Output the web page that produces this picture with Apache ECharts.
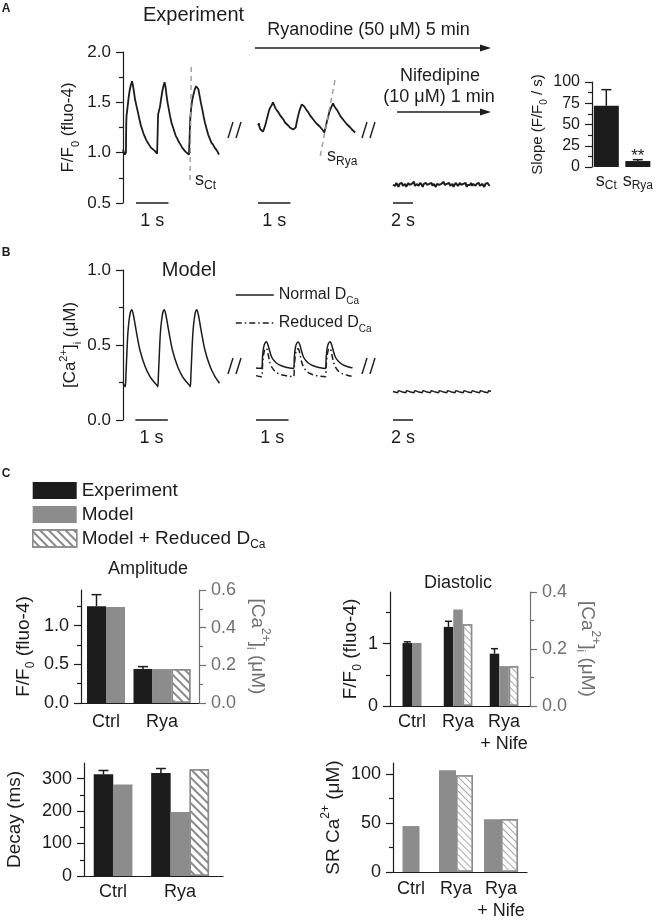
<!DOCTYPE html>
<html>
<head>
<meta charset="utf-8">
<script src="https://cdn.jsdelivr.net/npm/echarts@6/dist/echarts.min.js"></script>
<style>
html,body{margin:0;padding:0;background:#fff;}
#chart{width:656px;height:922px;}
</style>
</head>
<body>
<div id="chart"></div>
<script>
// ================= DATA =================
// Panel A: experiment traces [time (s), F/F0]
const expCtrl = [[0.00,1.03],[0.03,1.00],[0.06,0.98],[0.09,1.00],[0.10,1.30],[0.11,1.37],[0.14,1.45],[0.17,1.54],[0.20,1.61],[0.24,1.67],[0.28,1.71],[0.31,1.66],[0.34,1.60],[0.37,1.53],[0.41,1.47],[0.46,1.40],[0.50,1.34],[0.55,1.27],[0.59,1.23],[0.63,1.19],[0.67,1.16],[0.71,1.13],[0.76,1.10],[0.80,1.08],[0.86,1.05],[0.92,1.04],[0.97,1.02],[1.01,1.01],[1.05,0.99],[1.07,0.99],[1.08,1.38],[1.11,1.42],[1.14,1.46],[1.17,1.53],[1.21,1.61],[1.25,1.67],[1.28,1.70],[1.31,1.65],[1.34,1.57],[1.37,1.50],[1.41,1.43],[1.45,1.36],[1.49,1.30],[1.53,1.26],[1.58,1.21],[1.62,1.17],[1.67,1.14],[1.71,1.11],[1.77,1.08],[1.82,1.05],[1.87,1.03],[1.92,1.01],[1.98,1.00],[2.03,0.98],[2.06,0.97],[2.07,1.34],[2.10,1.45],[2.13,1.52],[2.17,1.58],[2.21,1.63],[2.25,1.66],[2.28,1.67],[2.32,1.63],[2.36,1.56],[2.40,1.49],[2.44,1.43],[2.48,1.36],[2.52,1.30],[2.57,1.24],[2.62,1.18],[2.67,1.14],[2.72,1.10],[2.77,1.08],[2.82,1.05],[2.87,1.03],[2.91,1.01],[2.95,0.98]];
const expRya = [[0.00,1.27],[0.03,1.29],[0.05,1.25],[0.08,1.23],[0.11,1.22],[0.15,1.21],[0.18,1.23],[0.20,1.24],[0.23,1.28],[0.26,1.32],[0.30,1.37],[0.34,1.42],[0.38,1.45],[0.42,1.47],[0.46,1.50],[0.50,1.47],[0.54,1.44],[0.58,1.42],[0.63,1.40],[0.68,1.37],[0.73,1.35],[0.78,1.33],[0.83,1.30],[0.88,1.29],[0.93,1.27],[0.98,1.25],[1.03,1.24],[1.08,1.23],[1.13,1.22],[1.16,1.25],[1.19,1.30],[1.23,1.36],[1.27,1.41],[1.31,1.45],[1.35,1.48],[1.38,1.49],[1.42,1.46],[1.46,1.44],[1.50,1.42],[1.55,1.40],[1.60,1.37],[1.65,1.35],[1.70,1.33],[1.75,1.31],[1.80,1.29],[1.85,1.28],[1.90,1.26],[1.95,1.24],[2.00,1.22],[2.04,1.20],[2.08,1.25],[2.12,1.31],[2.16,1.36],[2.20,1.41],[2.24,1.44],[2.28,1.47],[2.31,1.49],[2.35,1.46],[2.39,1.44],[2.44,1.42],[2.49,1.39],[2.54,1.36],[2.59,1.34],[2.64,1.32],[2.69,1.30],[2.74,1.28],[2.79,1.27],[2.84,1.25],[2.89,1.23],[2.94,1.22],[2.99,1.20]];
const expNifeDt = 0.11;
const expNife = [0.68,0.69,0.67,0.70,0.68,0.66,0.69,0.68,0.70,0.67,0.68,0.69,0.66,0.68,0.70,0.68,0.67,0.69,0.68,0.71,0.67,0.68,0.69,0.67,0.68,0.70,0.68,0.66,0.69,0.68,0.70,0.68,0.67,0.69,0.68,0.70,0.67,0.69,0.68,0.66,0.69,0.70,0.68,0.67,0.69,0.68,0.71,0.68,0.67,0.69,0.68,0.70,0.67,0.68,0.69,0.66,0.68,0.70,0.69,0.67,0.68,0.70,0.68,0.67,0.69,0.68,0.70,0.66,0.68,0.69,0.68,0.70,0.67,0.69,0.68,0.67,0.69,0.68,0.70,0.67,0.68,0.69,0.68,0.66,0.69,0.68,0.70,0.68,0.67];
const sCtLine = [[2.10,1.85],[2.06,0.70]];
const sRyaLine = [[2.37,1.72],[1.91,0.96]];

// Panel A inset: upstroke slope
const slopeCats = ['s_Ct','s_Rya'];
const slopeMean = [72, 7];
const slopeErr = [19, 1.6];
const slopeSig = ['', '**'];

// Panel B: model traces [time (s), [Ca2+]i (uM)]
const modelCtrl = [[0.00,0.245],[0.04,0.232],[0.07,0.222],[0.09,0.30],[0.12,0.45],[0.15,0.58],[0.19,0.67],[0.23,0.72],[0.27,0.735],[0.32,0.70],[0.37,0.64],[0.42,0.578],[0.52,0.467],[0.68,0.356],[0.83,0.289],[0.97,0.25],[1.04,0.233],[1.07,0.222],[1.09,0.30],[1.12,0.45],[1.15,0.58],[1.19,0.67],[1.23,0.72],[1.27,0.735],[1.32,0.70],[1.37,0.64],[1.42,0.578],[1.52,0.467],[1.68,0.356],[1.83,0.289],[1.97,0.25],[2.04,0.233],[2.07,0.222],[2.09,0.30],[2.12,0.45],[2.15,0.58],[2.19,0.67],[2.23,0.72],[2.27,0.735],[2.32,0.70],[2.37,0.64],[2.42,0.578],[2.52,0.467],[2.68,0.356],[2.83,0.289],[2.97,0.245]];
const modelRyaNormal = [[0.00,0.346],[0.10,0.345],[0.18,0.344],[0.20,0.42],[0.23,0.48],[0.27,0.51],[0.32,0.522],[0.37,0.50],[0.42,0.46],[0.48,0.42],[0.56,0.395],[0.66,0.375],[0.80,0.36],[0.95,0.35],[1.10,0.345],[1.16,0.344],[1.18,0.42],[1.21,0.48],[1.25,0.51],[1.30,0.52],[1.35,0.50],[1.40,0.46],[1.46,0.42],[1.54,0.395],[1.64,0.375],[1.78,0.36],[1.93,0.35],[2.08,0.345],[2.14,0.344],[2.16,0.42],[2.19,0.48],[2.23,0.51],[2.28,0.522],[2.33,0.50],[2.38,0.46],[2.44,0.42],[2.52,0.395],[2.62,0.375],[2.76,0.36],[2.91,0.35],[2.97,0.348]];
const modelRyaReduced = [[0.00,0.296],[0.10,0.29],[0.18,0.289],[0.20,0.36],[0.23,0.43],[0.27,0.47],[0.32,0.478],[0.37,0.44],[0.42,0.39],[0.48,0.355],[0.58,0.325],[0.70,0.308],[0.85,0.298],[1.00,0.292],[1.16,0.289],[1.18,0.36],[1.21,0.43],[1.25,0.47],[1.30,0.475],[1.35,0.44],[1.40,0.39],[1.46,0.355],[1.56,0.325],[1.68,0.308],[1.83,0.298],[1.98,0.292],[2.14,0.289],[2.16,0.36],[2.19,0.43],[2.23,0.47],[2.28,0.478],[2.33,0.44],[2.38,0.39],[2.44,0.355],[2.54,0.325],[2.66,0.308],[2.81,0.298],[2.97,0.29]];
const modelNife = [[0,0.19],[0.45,0.182],[0.55,0.196],[0.85,0.189],[1.27,0.182],[1.37,0.196],[1.67,0.189],[2.09,0.182],[2.19,0.196],[2.49,0.189],[2.91,0.182],[3.01,0.196],[3.31,0.189],[3.73,0.182],[3.83,0.196],[4.13,0.189],[4.55,0.182],[4.65,0.196],[4.95,0.189],[5.37,0.182],[5.47,0.196],[5.77,0.189],[6.19,0.182],[6.29,0.196],[6.59,0.189],[7.01,0.182],[7.11,0.196],[7.41,0.189],[7.83,0.182],[7.93,0.196],[8.23,0.189],[8.65,0.182],[8.75,0.196],[9.05,0.189],[9.47,0.182],[9.57,0.196],[9.80,0.19]];

// Panel C
const seriesNames = ['Experiment', 'Model', 'Model + Reduced D_Ca'];
const catsAmp = ['Ctrl', 'Rya'];
const ampExp = [1.25, 0.44];
const ampExpErr = [0.15, 0.03];
const ampModel = [0.51, 0.18];
const ampReduced = [null, 0.18];

const catsDia = ['Ctrl', 'Rya', 'Rya\n+ Nife'];
const diaExp = [1.01, 1.27, 0.84];
const diaExpErr = [0.02, 0.09, 0.08];
const diaModel = [0.221, 0.339, 0.14];
const diaReduced = [null, 0.287, 0.14];

const catsDecay = ['Ctrl', 'Rya'];
const decExp = [313, 317];
const decExpErr = [12, 14];
const decModel = [282, 197];
const decReduced = [null, 329];

const catsSR = ['Ctrl', 'Rya', 'Rya\n+ Nife'];
const srModel = [47, 104, 54];
const srReduced = [null, 99, 54];

// Tick labels
const ticksA = [0.5, 1.0, 1.5, 2.0], minorA = [0.75, 1.25, 1.75];
const ticksB = [0, 0.5, 1.0], minorB = [0.25, 0.75];
const ticksSlope = [0, 25, 50, 75, 100], minorSlope = [12.5, 37.5, 62.5, 87.5];
const ticksAmpL = [0, 0.5, 1.0], minorAmpL = [0.25, 0.75, 1.25];
const ticksAmpR = [0, 0.2, 0.4, 0.6], minorAmpR = [0.1, 0.3, 0.5];
const ticksDiaL = [0, 1], minorDiaL = [0.5, 1.5];
const ticksDiaR = [0, 0.2, 0.4], minorDiaR = [0.1, 0.3];
const ticksDec = [0, 100, 200, 300], minorDec = [50, 150, 250];
const ticksSR = [0, 50, 100], minorSR = [25, 75];

// Scale bars (start s, length s, label)
const scaleBarsA = [[0.4, 1, '1 s'], [0, 1, '1 s'], [0, 2, '2 s']];
const scaleBarsB = [[0.38, 1, '1 s'], [0, 1, '1 s'], [0, 2, '2 s']];

// ================= BUILD =================
const FONT = '"Liberation Sans", Arial, Helvetica, sans-serif';
const INK = '#1c1c1c', GREY = '#8c8c8c', AXG = '#707070';
const HATCH = {symbol: 'rect', symbolSize: 1, dashArrayX: [1, 0], dashArrayY: [1.5, 4], rotation: Math.PI / 4, color: '#8a8a8a'};
const HATCH_FINE = {symbol: 'rect', symbolSize: 1, dashArrayX: [1, 0], dashArrayY: [1, 4], rotation: Math.PI / 4, color: '#a8a8a8'};

const subify = s => s.replace(/_(\w+)/, '{sub|$1}');
function rich(fs, c) {
  const s = Math.round(fs * 0.64);
  return {
    sub: {fontSize: s, fontFamily: FONT, color: c, fill: c, verticalAlign: 'bottom'},
    sup: {fontSize: s, fontFamily: FONT, color: c, fill: c, verticalAlign: 'top'}
  };
}

const grids = [], xAxes = [], yAxes = [], series = [];
function addGrid(left, top, width, height) { grids.push({left, top, width, height}); return grids.length - 1; }
function addHiddenX(g, min, max) { xAxes.push({type: 'value', gridIndex: g, min, max, show: false}); return xAxes.length - 1; }
function addHiddenY(g, min, max) { yAxes.push({type: 'value', gridIndex: g, min, max, show: false}); return yAxes.length - 1; }
function addY(g, o) {
  const c = o.color || INK;
  const idx = yAxes.length;
  yAxes.push({
    type: 'value', gridIndex: g, min: o.min, max: o.max, position: o.pos || 'left',
    axisLine: {show: true, onZero: false, lineStyle: {color: c, width: 1.2}},
    axisTick: {show: true, customValues: o.majors, length: 7, lineStyle: {color: c, width: 1.2}},
    axisLabel: {show: true, customValues: o.majors, formatter: v => Number(v).toFixed(o.dec), color: c, fontSize: o.fs, fontFamily: FONT, margin: 12},
    splitLine: {show: false},
    name: o.name, nameLocation: 'middle', nameGap: o.nameGap, nameRotate: o.nameRotate,
    nameTextStyle: {fontSize: o.nfs, fontFamily: FONT, color: c, lineHeight: o.nfs + 8, rich: rich(o.nfs, c)}
  });
  yAxes.push({
    type: 'value', gridIndex: g, min: o.min, max: o.max, position: o.pos || 'left',
    axisLine: {show: false}, axisLabel: {show: false}, splitLine: {show: false},
    axisTick: {show: true, customValues: o.minors, length: 4, lineStyle: {color: c, width: 1.2}}
  });
  return idx;
}
function addCatX(g, left, width, firstPx, stepPx, cats, margin, showLine) {
  const min = 1 - (firstPx - left) / stepPx;
  const max = min + width / stepPx;
  xAxes.push({
    type: 'value', gridIndex: g, min, max,
    axisLine: {show: showLine !== false, onZero: false, lineStyle: {color: INK, width: 1.2}},
    axisTick: {show: false}, splitLine: {show: false},
    axisLabel: {customValues: cats.map((c, i) => i + 1), formatter: v => subify(cats[Math.round(v) - 1] || ''),
      fontSize: 18, fontFamily: FONT, color: INK, margin, lineHeight: 22, rich: rich(18, INK)}
  });
  return xAxes.length - 1;
}
function line(xi, yi, data, width, extra) {
  series.push(Object.assign({type: 'line', xAxisIndex: xi, yAxisIndex: yi, data, symbol: 'none', showSymbol: false,
    lineStyle: {color: INK, width}, z: 3, silent: true}, extra || {}));
}
function scaleBar(xi, yi, yBase, bar) {
  series.push({type: 'custom', xAxisIndex: xi, yAxisIndex: yi, data: [[bar[0], bar[1], yBase]], silent: true,
    renderItem: (p, api) => {
      const s = api.value(0), L = api.value(1), yb = api.value(2);
      const p0 = api.coord([s, yb]), p1 = api.coord([s + L, yb]);
      return {type: 'group', children: [
        {type: 'line', shape: {x1: p0[0], y1: p0[1], x2: p1[0], y2: p1[1]}, style: {stroke: INK, lineWidth: 1.5}},
        {type: 'text', x: (p0[0] + p1[0]) / 2, y: p0[1] + 18, style: {text: bar[2], fontSize: 18, fontFamily: FONT, fill: INK, align: 'center', verticalAlign: 'middle', textAlign: 'center', textVerticalAlign: 'middle'}}
      ]};
    }});
}
function errBars(xi, yi, data, capW, sig) {
  series.push({type: 'custom', xAxisIndex: xi, yAxisIndex: yi, data, z: 6, silent: true,
    renderItem: (p, api) => {
      const x = api.value(0), m = api.value(1), e = api.value(2);
      const p0 = api.coord([x, m]), p1 = api.coord([x, m + e]);
      const st = {stroke: INK, lineWidth: 1.5};
      const ch = [
        {type: 'line', shape: {x1: p0[0], y1: p0[1], x2: p0[0], y2: p1[1]}, style: st},
        {type: 'line', shape: {x1: p0[0] - capW / 2, y1: p1[1], x2: p0[0] + capW / 2, y2: p1[1]}, style: st}
      ];
      const s = sig && sig[p.dataIndex];
      if (s) ch.push({type: 'text', x: p0[0], y: p1[1] - 3, style: {text: s, fontSize: 17, fontFamily: FONT, fill: INK, align: 'center', verticalAlign: 'middle', textAlign: 'center', textVerticalAlign: 'middle'}});
      return {type: 'group', children: ch};
    }});
}
function barGroups(xi, ppu, yiExp, yiMod, exp, model, reduced, w, hatch) {
  const groups = [exp, model, reduced];
  const n = (exp || model).length;
  const pos = groups.map(() => []);
  for (let i = 0; i < n; i++) {
    const present = [];
    groups.forEach((g, gi) => { if (g && g[i] != null) present.push(gi); });
    present.forEach((gi, k) => { pos[gi][i] = (i + 1) + (k - (present.length - 1) / 2) * w / ppu; });
  }
  const styles = [{color: INK}, {color: GREY}, {color: '#ffffff', borderColor: GREY, borderWidth: 1.4, decal: hatch || HATCH}];
  groups.forEach((g, gi) => {
    if (!g) return;
    const data = [];
    g.forEach((v, i) => { if (v != null) data.push([pos[gi][i], v]); });
    series.push({name: seriesNames[gi], type: 'bar', xAxisIndex: xi, yAxisIndex: gi === 0 ? yiExp : yiMod,
      barWidth: w, barGap: '-100%', itemStyle: styles[gi], data, silent: true, z: 2});
  });
  return pos;
}

// ---- Panel A ----
const gA1 = addGrid(123, 52, 97.5, 151), gA2 = addGrid(258, 52, 97.5, 151), gA3 = addGrid(393, 52, 100, 151);
const xA1 = addHiddenX(gA1, 0, 3), xA2 = addHiddenX(gA2, 0, 3), xA3 = addHiddenX(gA3, 0, 10);
const yA1 = addY(gA1, {min: 0.5, max: 2.0, majors: ticksA, minors: minorA, dec: 1, fs: 17, name: 'F/F{sub|0} (fluo-4)', nameGap: 42, nfs: 17});
const yA2 = addHiddenY(gA2, 0.5, 2.0), yA3 = addHiddenY(gA3, 0.5, 2.0);
line(xA1, yA1, expCtrl, 1.8);
line(xA2, yA2, expRya, 1.8);
line(xA3, yA3, expNife.map((v, i) => [i * expNifeDt, v]), 2);
line(xA1, yA1, sCtLine, 1.4, {lineStyle: {color: '#999', width: 1.4, type: [5, 4]}, z: 4});
line(xA2, yA2, sRyaLine, 1.4, {lineStyle: {color: '#999', width: 1.4, type: [5, 4]}, z: 4});
scaleBar(xA1, yA1, 0.5, scaleBarsA[0]);
scaleBar(xA2, yA2, 0.5, scaleBarsA[1]);
scaleBar(xA3, yA3, 0.5, scaleBarsA[2]);

// ---- Inset slope ----
const gIn = addGrid(592, 82, 64, 85);
const xIn = addCatX(gIn, 592, 64, 607, 33, slopeCats, 3, false);
const yIn = addY(gIn, {min: 0, max: 100, majors: ticksSlope, minors: minorSlope, dec: 0, fs: 16, name: 'Slope (F/F{sub|0} / s)', nameGap: 42, nfs: 15});
series.push({type: 'bar', xAxisIndex: xIn, yAxisIndex: yIn, barWidth: 25, data: slopeMean.map((v, i) => [i + 1, v]), itemStyle: {color: INK}, silent: true});
errBars(xIn, yIn, slopeMean.map((v, i) => [i + 1, v, slopeErr[i]]), 10, slopeSig);

// ---- Panel B ----
const gB1 = addGrid(123, 270, 97.5, 150), gB2 = addGrid(256, 270, 97.5, 150), gB3 = addGrid(393, 270, 100, 150);
const xB1 = addHiddenX(gB1, 0, 3), xB2 = addHiddenX(gB2, 0, 3), xB3 = addHiddenX(gB3, 0, 10);
const yB1 = addY(gB1, {min: 0, max: 1.0, majors: ticksB, minors: minorB, dec: 1, fs: 17, name: '[Ca{sup|2+}]{sub|i} (μM)', nameGap: 40, nfs: 17});
const yB2 = addHiddenY(gB2, 0, 1.0), yB3 = addHiddenY(gB3, 0, 1.0);
line(xB1, yB1, modelCtrl, 1.5, {smooth: 0.3});
series.push({name: 'Normal D_Ca', type: 'line', xAxisIndex: xB2, yAxisIndex: yB2, data: modelRyaNormal, symbol: 'none', smooth: 0.3, itemStyle: {color: INK}, lineStyle: {color: INK, width: 1.5}, silent: true, z: 3});
series.push({name: 'Reduced D_Ca', type: 'line', xAxisIndex: xB2, yAxisIndex: yB2, data: modelRyaReduced, symbol: 'none', smooth: 0.3, itemStyle: {color: INK}, lineStyle: {color: INK, width: 1.5, type: [6, 3, 1.5, 3]}, silent: true, z: 3});
line(xB3, yB3, modelNife, 1.5);
scaleBar(xB1, yB1, 0, scaleBarsB[0]);
scaleBar(xB2, yB2, 0, scaleBarsB[1]);
scaleBar(xB3, yB3, 0, scaleBarsB[2]);

// ---- Panel C ----
// Amplitude
const gAmp = addGrid(81, 590, 118, 113);
const xAmp = addCatX(gAmp, 81, 118, 106, 56, catsAmp, 8);
const yAmpL = addY(gAmp, {min: 0, max: 1.46, majors: ticksAmpL, minors: minorAmpL, dec: 1, fs: 18, name: 'F/F{sub|0} (fluo-4)', nameGap: 44, nfs: 19});
const yAmpR = addY(gAmp, {min: 0, max: 0.6, majors: ticksAmpR, minors: minorAmpR, dec: 1, fs: 18, pos: 'right', color: AXG, name: '[Ca{sup|2+}]{sub|i} (μM)', nameGap: 45, nameRotate: -90, nfs: 19});
const posAmp = barGroups(xAmp, 56, yAmpL, yAmpR, ampExp, ampModel, ampReduced, 19);
errBars(xAmp, yAmpL, ampExp.map((v, i) => [posAmp[0][i], v, ampExpErr[i]]), 10);

// Diastolic
const gDia = addGrid(390, 592, 140, 114);
const xDia = addCatX(gDia, 390, 140, 412, 46, catsDia, 5);
const yDiaL = addY(gDia, {min: 0, max: 1.83, majors: ticksDiaL, minors: minorDiaL, dec: 0, fs: 18, name: 'F/F{sub|0} (fluo-4)', nameGap: 25, nfs: 19});
const yDiaR = addY(gDia, {min: 0, max: 0.4, majors: ticksDiaR, minors: minorDiaR, dec: 1, fs: 18, pos: 'right', color: AXG, name: '[Ca{sup|2+}]{sub|i} (μM)', nameGap: 44, nameRotate: -90, nfs: 19});
const posDia = barGroups(xDia, 46, yDiaL, yDiaR, diaExp, diaModel, diaReduced, 9.5, HATCH_FINE);
errBars(xDia, yDiaL, diaExp.map((v, i) => [posDia[0][i], v, diaExpErr[i]]), 7);

// Decay
const gDec = addGrid(82, 763, 141, 113);
const xDec = addCatX(gDec, 82, 141, 111.5, 68, catsDecay, 5);
const yDec = addY(gDec, {min: 0, max: 348, majors: ticksDec, minors: minorDec, dec: 0, fs: 18, name: 'Decay (ms)', nameGap: 56, nfs: 19});
const posDec = barGroups(xDec, 68, yDec, yDec, decExp, decModel, decReduced, 19.5);
errBars(xDec, yDec, decExp.map((v, i) => [posDec[0][i], v, decExpErr[i]]), 10);

// SR Ca
const gSR = addGrid(393, 763, 134, 114);
const xSR = addCatX(gSR, 393, 134, 411, 45, catsSR, 6);
const ySR = addY(gSR, {min: 0, max: 111.5, majors: ticksSR, minors: minorSR, dec: 0, fs: 18, name: 'SR Ca{sup|2+} (μM)', nameGap: 34, nfs: 19});
barGroups(xSR, 45, ySR, ySR, null, srModel, srReduced, 17, HATCH_FINE);

// ---- Annotations ----
function T(x, y, text, fs, extra) {
  return {type: 'text', x, y, silent: true, z: 10,
    style: Object.assign({text, fontSize: fs, fontFamily: FONT, fill: INK, align: 'center', verticalAlign: 'middle', textAlign: 'center', textVerticalAlign: 'middle'}, extra || {})};
}
function L(x1, y1, x2, y2, w) { return {type: 'line', silent: true, shape: {x1, y1, x2, y2}, style: {stroke: INK, lineWidth: w || 1.5}}; }
function slashes(cx, cy) { return [L(cx - 7, cy + 8, cx - 2, cy - 8, 1.4), L(cx + 1, cy + 8, cx + 6, cy - 8, 1.4)]; }
const graphics = [
  T(6, 9, 'A', 12, {fontWeight: 'bold'}),
  T(6, 253, 'B', 12, {fontWeight: 'bold'}),
  T(6, 474, 'C', 12, {fontWeight: 'bold'}),
  T(193.5, 15, 'Experiment', 20),
  T(368.5, 30, 'Ryanodine (50 μM) 5 min', 18),
  L(255, 48, 482, 48, 1.5),
  {type: 'polygon', silent: true, shape: {points: [[480, 44.5], [491, 48], [480, 51.5]]}, style: {fill: INK}},
  T(440, 76, 'Nifedipine', 18),
  T(439, 97, '(10 μM) 1 min', 18),
  L(397, 112, 482, 112, 1.5),
  {type: 'polygon', silent: true, shape: {points: [[480, 108.5], [491, 112], [480, 115.5]]}, style: {fill: INK}},
  T(195, 180, 's{sub|Ct}', 18, {align: 'left', textAlign: 'left', lineHeight: 24, rich: rich(18, INK)}),
  T(327, 156, 's{sub|Rya}', 18, {align: 'left', textAlign: 'left', lineHeight: 24, rich: rich(18, INK)}),
  T(189, 270, 'Model', 20),
  T(148, 569, 'Amplitude', 18),
  T(458, 583, 'Diastolic', 18),
  ...slashes(235, 130), ...slashes(369, 130), ...slashes(235, 366), ...slashes(369, 366)
];

const option = {
  animation: false,
  grid: grids, xAxis: xAxes, yAxis: yAxes, series,
  legend: [
    {data: [{name: seriesNames[0]}, {name: seriesNames[1]}, {name: seriesNames[2], itemStyle: {borderColor: GREY, borderWidth: 1.4}}],
     orient: 'vertical', left: 32, top: 478.5, padding: 0, itemGap: 0, itemWidth: 44, itemHeight: 17, icon: 'rect', selectedMode: false,
     formatter: n => subify(n),
     textStyle: {fontSize: 19, fontFamily: FONT, color: INK, lineHeight: 24, rich: rich(19, INK)}},
    {data: ['Normal D_Ca', 'Reduced D_Ca'], orient: 'vertical', left: 235, top: 284, padding: 0, itemGap: 6, itemWidth: 38, itemHeight: 14, selectedMode: false,
     itemStyle: {opacity: 0},
     lineStyle: {color: INK, width: 1.5},
     formatter: n => subify(n),
     textStyle: {fontSize: 16, fontFamily: FONT, color: INK, lineHeight: 22, rich: rich(16, INK)}}
  ],
  graphic: {elements: graphics}
};
const chart = echarts.init(document.getElementById('chart'), null, {renderer: 'canvas'});
chart.setOption(option);
</script>
</body>
</html>
